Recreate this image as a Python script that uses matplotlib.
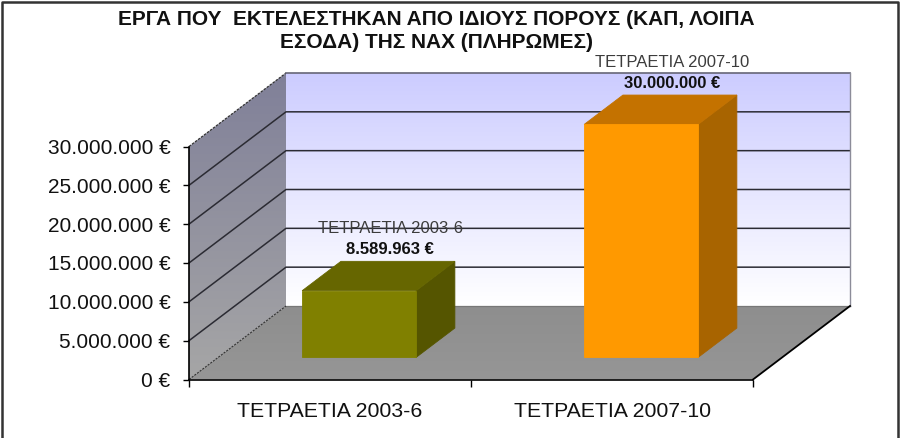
import numpy as np
import matplotlib
matplotlib.use('Agg')
import matplotlib.pyplot as plt
from matplotlib.colors import LinearSegmentedColormap
from matplotlib.lines import Line2D
from matplotlib.patches import Polygon
from matplotlib.ticker import FuncFormatter

plt.rcParams['font.family'] = ['Liberation Sans', 'DejaVu Sans']

# data
categories = ['ΤΕΤΡΑΕΤΙΑ 2003-6', 'ΤΕΤΡΑΕΤΙΑ 2007-10']
values = [8589963, 30000000]
y_ticks = [0, 5000000, 10000000, 15000000, 20000000, 25000000, 30000000]
title = 'ΕΡΓΑ ΠΟΥ  ΕΚΤΕΛΕΣΤΗΚΑΝ ΑΠΟ ΙΔΙΟΥΣ ΠΟΡΟΥΣ (ΚΑΠ, ΛΟΙΠΑ\nΕΣΟΔΑ) ΤΗΣ ΝΑΧ (ΠΛΗΡΩΜΕΣ)'

front_colors = ['#808000', '#FF9900']
top_colors = ['#666600', '#C47200']
side_colors = ['#555500', '#A86400']

W, H = 900, 438
# front plane of the chart in pixels
LEFT, RIGHT, BOTTOM, TOP = 189, 753, 379.5, 146.5
# oblique offset of the back wall in pixels
DEPTH_X, DEPTH_Y = 97, 73.5

fig = plt.figure(figsize=(W / 100, H / 100), dpi=100, facecolor='white')
ax = fig.add_axes([LEFT / W, 1 - BOTTOM / H, (RIGHT - LEFT) / W, (BOTTOM - TOP) / H])
ax.patch.set_alpha(0)

y_max = y_ticks[-1]
n_cat = len(categories)
dx_unit = DEPTH_X / ((RIGHT - LEFT) / n_cat)
dy_unit = DEPTH_Y / (BOTTOM - TOP) * y_max


def project(x, y, d):
    # d = 0 front plane, d = 1 back wall
    return (x + d * dx_unit, y + d * dy_unit)


def gradient_fill(corners, top_color, bottom_color, zorder):
    xs = [c[0] for c in corners]
    ys = [c[1] for c in corners]
    cmap = LinearSegmentedColormap.from_list('g', [bottom_color, top_color])
    grad = np.linspace(1, 0, 256).reshape(-1, 1)
    im = ax.imshow(grad, cmap=cmap, vmin=0, vmax=1, aspect='auto', zorder=zorder,
                   extent=(min(xs), max(xs), min(ys), max(ys)))
    poly = Polygon(corners, closed=True, transform=ax.transData, fill=False, edgecolor='none')
    # the walls stick out of the axes box, so only clip to the polygon
    im.set_clip_box(fig.bbox)
    im.set_clip_path(poly)


# walls and floor
gradient_fill([project(0, 0, 1), project(n_cat, 0, 1), project(n_cat, y_max, 1), project(0, y_max, 1)],
              '#CCCCFF', '#FFFFFF', 1)
gradient_fill([project(0, 0, 0), project(0, 0, 1), project(0, y_max, 1), project(0, y_max, 0)],
              '#808099', '#A6A6A6', 1)
gradient_fill([project(0, 0, 0), project(n_cat, 0, 0), project(n_cat, 0, 1), project(0, 0, 1)],
              '#8E8E8E', '#969696', 1)

# gridlines on back wall and side wall
for v in y_ticks[1:-1]:
    xa, ya = project(0, v, 0)
    xb, yb = project(0, v, 1)
    xc, yc = project(n_cat, v, 1)
    ax.plot([xa, xb, xc], [ya, yb, yc], color='#2B2B33', lw=1.1, zorder=2, clip_on=False)

# outlines of the box
xa, ya = project(0, y_max, 0)
xb, yb = project(0, y_max, 1)
xc, yc = project(n_cat, y_max, 1)
ax.plot([xa, xb], [ya, yb], color='#333333', lw=0.9, ls=(0, (2, 1)), zorder=2, clip_on=False)
ax.plot([xb, xc], [yb, yc], color='#666677', lw=1.2, zorder=2, clip_on=False)
xd, yd = project(n_cat, 0, 1)
ax.plot([xc, xd], [yc, yd], color='#8C8C99', lw=1.0, zorder=2, clip_on=False)
xe, ye = project(0, 0, 1)
ax.plot([xe, xd], [ye, yd], color='#777777', lw=0.9, zorder=2, clip_on=False)
ax.plot([0, xe], [0, ye], color='#333333', lw=0.8, ls=(0, (2, 1)), zorder=2, clip_on=False)
ax.plot([n_cat, xd], [0, yd], color='black', lw=1.3, zorder=2, clip_on=False)

# bars
bar_w = 0.404
for i, v in enumerate(values):
    x0 = i + 0.5 - bar_w / 2
    x1 = i + 0.5 + bar_w / 2
    d0, d1 = 0.3, 0.7
    front = [project(x0, 0, d0), project(x1, 0, d0), project(x1, v, d0), project(x0, v, d0)]
    side = [project(x1, 0, d0), project(x1, 0, d1), project(x1, v, d1), project(x1, v, d0)]
    top = [project(x0, v, d0), project(x1, v, d0), project(x1, v, d1), project(x0, v, d1)]
    ax.add_patch(Polygon(side, facecolor=side_colors[i], edgecolor=side_colors[i], lw=0.6, zorder=3, clip_on=False))
    ax.add_patch(Polygon(top, facecolor=top_colors[i], edgecolor=top_colors[i], lw=0.6, zorder=3, clip_on=False))
    ax.add_patch(Polygon(front, facecolor=front_colors[i], edgecolor=front_colors[i], lw=0.6, zorder=4, clip_on=False))

    # data labels, offsets in points from the top of the bar
    xt, yt = project(i + 0.5, v, d0)
    ax.annotate(categories[i], (xt, yt), xytext=(22.5, 44.5), textcoords='offset points',
                ha='center', va='center', fontsize=12, color='#3C3C3C', zorder=5, annotation_clip=False)
    ax.annotate(f'{v:,}'.replace(',', '.') + ' €', (xt, yt), xytext=(22.5, 29.5), textcoords='offset points',
                ha='center', va='center', fontsize=12, color='#111111', fontweight='bold', zorder=5, annotation_clip=False)

ax.set_xlim(0, n_cat)
ax.set_ylim(0, y_max)

# axes
for s in ['top', 'right']:
    ax.spines[s].set_visible(False)
for s in ['left', 'bottom']:
    ax.spines[s].set_linewidth(1.2)
    ax.spines[s].set_color('black')
    ax.spines[s].set_zorder(6)

ax.set_yticks(y_ticks)
ax.yaxis.set_major_formatter(FuncFormatter(lambda v, p: f'{int(v):,}'.replace(',', '.') + ' €'))
ax.tick_params(axis='y', length=4.5, width=1.0, pad=9, labelsize=15, labelcolor='#111111')
ax.set_xticks(range(n_cat + 1))
ax.set_xticklabels([])
ax.tick_params(axis='x', which='major', length=5, width=1.0)
ax.set_xticks([i + 0.5 for i in range(n_cat)], minor=True)
ax.set_xticklabels(categories, minor=True)
ax.tick_params(axis='x', which='minor', length=0, pad=16, labelsize=15.3, labelcolor='#111111')

fig.text(436 / W, 1 - 31 / H, title, ha='center', va='center', fontsize=15, fontweight='bold',
         color='#111111', linespacing=1.3)

# chart frame
fig.add_artist(Line2D([1.5 / W, 1.5 / W, 897.5 / W, 897.5 / W], [0, 1 - 1.5 / H, 1 - 1.5 / H, 0],
                      color='#333333', lw=1.8))

fig.savefig('out.png', dpi=100)
